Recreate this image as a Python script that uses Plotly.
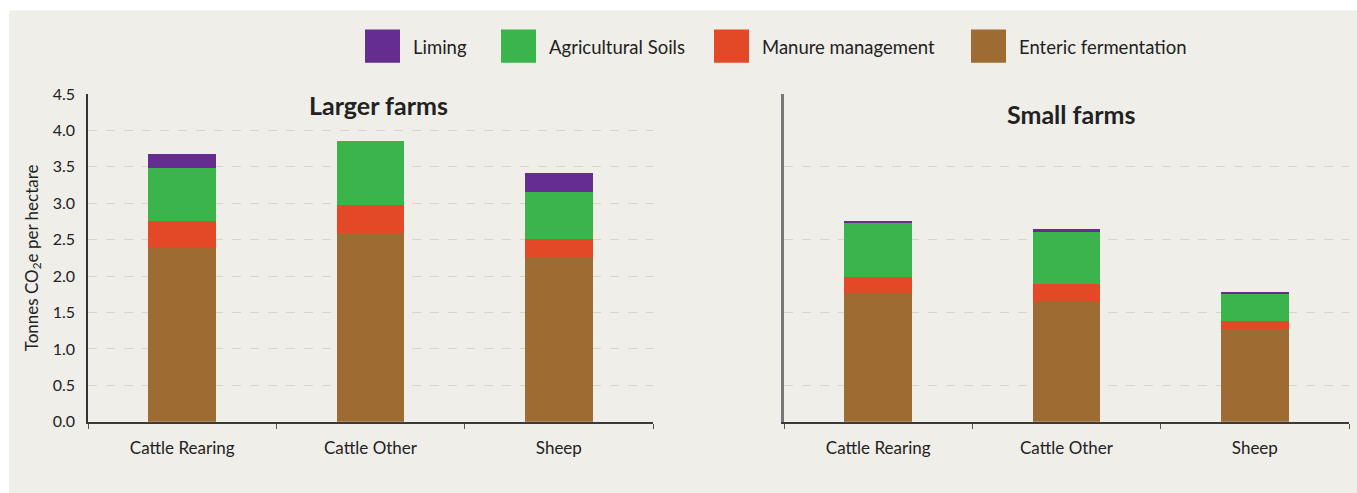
import plotly.graph_objects as go

categories = ["Cattle Rearing", "Cattle Other", "Sheep"]
series_names = ["Enteric fermentation", "Manure management", "Agricultural Soils", "Liming"]
colors = ["#9e6b33", "#e34927", "#3bb54b", "#652d90"]

larger_enteric = [2.39, 2.585, 2.25]
larger_manure = [0.36, 0.395, 0.26]
larger_soils = [0.74, 0.87, 0.65]
larger_liming = [0.19, 0.0, 0.25]

small_enteric = [1.75, 1.64, 1.28]
small_manure = [0.24, 0.25, 0.11]
small_soils = [0.74, 0.71, 0.37]
small_liming = [0.015, 0.045, 0.015]

y_ticks = [0.0, 0.5, 1.0, 1.5, 2.0, 2.5, 3.0, 3.5, 4.0, 4.5]
y_ticks_small = [0.5, 1.5, 2.5, 3.5, 4.5]

W, H = 1357, 493
FONT = "Lato"

def px_x(p):
    return p / W

def px_y(p):
    # calibrated for the capture's vertical placement
    q = (p - 10.5) / 0.956
    return (H - q) / H

fig = go.Figure()
larger = [larger_enteric, larger_manure, larger_soils, larger_liming]
small = [small_enteric, small_manure, small_soils, small_liming]
for name, col, vals in zip(series_names, colors, larger):
    fig.add_trace(go.Bar(x=categories, y=vals, name=name, marker=dict(color=col, line=dict(width=0)),
                         xaxis="x", yaxis="y", showlegend=False))
for name, col, vals in zip(series_names, colors, small):
    fig.add_trace(go.Bar(x=categories, y=vals, name=name, marker=dict(color=col, line=dict(width=0)),
                         xaxis="x2", yaxis="y2", showlegend=False))

panel = "#efeee9"
grid = "#d8d5cb"

axis_common_x = dict(
    type="category", tickson="boundaries", ticks="outside", ticklen=5, tickwidth=1,
    tickcolor="#555", showline=True, linecolor="#3a3a3a", linewidth=2,
    tickfont=dict(family=FONT, size=17, color="#222"), showgrid=False,
    ticklabelstandoff=10,
)

fig.update_layout(
    width=W, height=H, autosize=False,
    margin=dict(l=0, r=0, t=0, b=0),
    paper_bgcolor="white", plot_bgcolor=panel,
    barmode="stack", bargap=0.64,
    font=dict(family=FONT, color="#222"),
    xaxis=dict(domain=[px_x(88), px_x(653)], anchor="y", **axis_common_x),
    xaxis2=dict(domain=[px_x(784), px_x(1349)], anchor="y2", **axis_common_x),
    yaxis=dict(domain=[px_y(420), px_y(94)], anchor="x", range=[0, 4.5],
               tickvals=y_ticks, ticktext=[f"{v:.1f}" for v in y_ticks],
               showgrid=True, gridcolor=grid, griddash="dash", gridwidth=1,
               zeroline=False, showline=True, linecolor="#333", linewidth=1.5,
               ticks="", ticklabelstandoff=8,
               tickfont=dict(family=FONT, size=16, color="#222"),
               title=dict(text="Tonnes CO<sub>2</sub>e per hectare", standoff=10,
                          font=dict(family=FONT, size=17, color="#222"))),
    yaxis2=dict(domain=[px_y(420), px_y(94)], anchor="x2", range=[0, 4.5],
                tickvals=y_ticks_small, showticklabels=False,
                showgrid=True, gridcolor=grid, griddash="dash", gridwidth=1,
                zeroline=False, showline=True, linecolor="#777", linewidth=2.5, ticks=""),
)

shapes = [dict(type="rect", xref="paper", yref="paper", x0=px_x(9), x1=1.01, y0=px_y(495), y1=px_y(11),
               fillcolor=panel, line=dict(width=0), layer="below")]
annotations = [
    dict(text="<b>Larger farms</b>", x=px_x(378), y=px_y(105), xref="paper", yref="paper",
         xanchor="center", yanchor="middle",
         showarrow=False, font=dict(family=FONT, size=25, color="#222")),
    dict(text="<b>Small farms</b>", x=px_x(1071), y=px_y(114), xref="paper", yref="paper",
         xanchor="center", yanchor="middle",
         showarrow=False, font=dict(family=FONT, size=25, color="#222")),
]

legend_order = [3, 2, 1, 0]
legend_x = [365, 501, 714, 971]
for idx, lx in zip(legend_order, legend_x):
    shapes.append(dict(type="rect", xref="paper", yref="paper", x0=px_x(lx), x1=px_x(lx + 35),
                       y0=px_y(63), y1=px_y(30), fillcolor=colors[idx], line=dict(width=0)))
    annotations.append(dict(text=series_names[idx], x=px_x(lx + 46), y=px_y(47), xref="paper", yref="paper",
                            xanchor="left", yanchor="middle", showarrow=False,
                            font=dict(family=FONT, size=18.5, color="#222")))

fig.update_layout(shapes=shapes, annotations=annotations)
fig.write_html("out.html",
               config={"displayModeBar": False},
               post_script="document.body.style.margin='0';document.body.style.padding='0';document.body.style.overflow='hidden';")
